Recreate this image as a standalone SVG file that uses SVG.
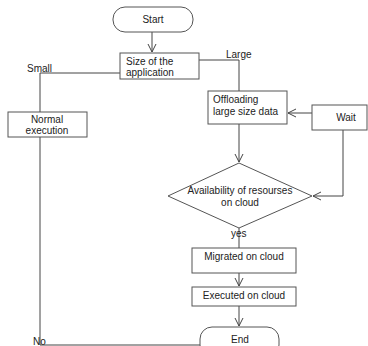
<svg xmlns="http://www.w3.org/2000/svg" width="368" height="346" viewBox="0 0 368 346">
<defs>
<marker id="v" markerWidth="10" markerHeight="10" refX="9" refY="5" orient="auto" markerUnits="userSpaceOnUse">
<path d="M1,1 L9,5 L1,9" fill="none" stroke="#444" stroke-width="1"/>
</marker>
</defs>
<style>
.s{fill:#fff;stroke:#555;stroke-width:1}
.t{font-family:"Liberation Sans",Arial,sans-serif;font-size:10px;fill:#222}
.c{fill:none;stroke:#444;stroke-width:1}
</style>
<rect width="368" height="346" fill="#fff"/>
<g id="connectors">
<path class="c" d="M152,32 V52" marker-end="url(#v)"/>
<path class="c" d="M199,60 H239 V91"/>
<path class="c" d="M120,73 H40 V112"/>
<path class="c" d="M40,137 V345 H200"/>
<path class="c" d="M239,124 V162" marker-end="url(#v)"/>
<path class="c" d="M312,113 H288" marker-end="url(#v)"/>
<path class="c" d="M343,130 V196 H313" marker-end="url(#v)"/>
<path class="c" d="M239,228 V248"/>
<path class="c" d="M239,273 V286" marker-end="url(#v)"/>
<path class="c" d="M239,306 V326" marker-end="url(#v)"/>
</g>
<g id="start"><rect class="s" x="113" y="7" width="80" height="25" rx="12"/><text class="t" x="153" y="23" text-anchor="middle">Start</text></g>
<g id="size"><rect class="s" x="120" y="53" width="79" height="26"/><text class="t" x="126" y="65">Size of the</text><text class="t" x="126" y="76">application</text></g>
<g id="normal"><rect class="s" x="8" y="112" width="79" height="25"/><text class="t" x="47" y="123" text-anchor="middle">Normal</text><text class="t" x="47" y="134" text-anchor="middle">execution</text></g>
<g id="offload"><rect class="s" x="208" y="91" width="79" height="33"/><text class="t" x="213" y="103">Offloading</text><text class="t" x="213" y="115">large size data</text></g>
<g id="wait"><rect class="s" x="312" y="105" width="55" height="25"/><text class="t" x="346" y="121" text-anchor="middle">Wait</text></g>
<g id="avail"><polygon class="s" points="239,163 312,196 239,228 168,196"/><text class="t" x="240" y="194" text-anchor="middle">Availability of resourses</text><text class="t" x="240" y="206" text-anchor="middle">on cloud</text></g>
<g id="migrated"><rect class="s" x="192" y="248" width="104" height="25"/><text class="t" x="244" y="260" text-anchor="middle">Migrated on cloud</text></g>
<g id="executed"><rect class="s" x="192" y="287" width="104" height="19"/><text class="t" x="244" y="299" text-anchor="middle">Executed on cloud</text></g>
<g id="end"><rect class="s" x="200" y="327" width="79" height="30" rx="12"/><text class="t" x="240" y="343" text-anchor="middle">End</text></g>
<text class="t" x="226" y="58">Large</text>
<text class="t" x="27" y="72">Small</text>
<text class="t" x="231" y="237">yes</text>
<text class="t" x="33" y="345">No</text>
</svg>
